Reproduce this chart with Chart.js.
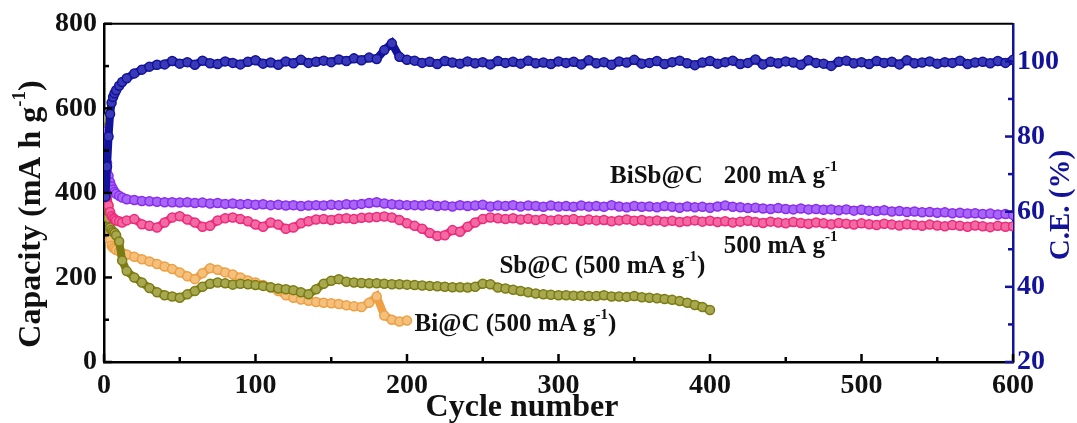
<!DOCTYPE html>
<html>
<head>
<meta charset="utf-8">
<script src="https://cdn.jsdelivr.net/npm/chart.js@4/dist/chart.umd.min.js"></script>
<style>
  html, body { margin: 0; padding: 0; background: #fff; }
  canvas { display: block; }
</style>
</head>
<body>
<canvas id="cycling" width="1077" height="423"></canvas>
<script>
// sampled cycle numbers (dense at start, then every 5 cycles)
const earlyCycles = [1, 2, 3, 4, 5, 6, 7, 8, 10, 12];
const cycleNumbers = earlyCycles.concat(Array.from({ length: 118 }, (_, i) => 15 + 5 * i));

// BiSb@C coulombic efficiency (%), right axis
const bisbCE = [
  64, 72, 80, 86, 89, 90.5, 91.5, 92.3, 93.5, 94.5,
  95.5, 96.8, 97.8, 98.6,
  99.1, 99.2, 100.1, 99.4, 99.8, 99.1, 100.2, 99.5, 99.3, 100.0,
  99.6, 99.2, 99.9, 100.3, 99.4, 99.7, 99.1, 100.0, 99.5, 100.4,
  99.6, 99.9, 100.2, 99.8,
  100.5, 100.1, 100.8, 100.3, 101.0, 100.6, 103.0, 104.8, 101.2, 100.4,
  100.2, 99.6, 99.9, 99.3, 100.1, 99.7, 99.4, 100.0, 99.5, 99.8,
  99.2, 100.1, 99.6, 99.9, 99.4, 100.2, 99.5, 99.7, 99.3, 100.0,
  99.6, 99.9, 99.2, 100.3, 99.5, 99.8, 99.1, 100.0, 99.7, 100.4,
  99.4, 99.6, 100.1, 99.3, 99.8, 100.2, 99.5, 99.0, 99.7, 100.1,
  99.4, 99.8, 100.2, 99.3, 99.6, 100.5, 99.2, 99.9, 99.5, 100.0,
  99.7, 99.1, 100.3, 99.6, 99.4, 98.8, 99.9, 100.2, 99.5, 99.8,
  99.3, 100.1, 99.6, 99.9, 99.2, 100.3, 99.5, 99.7, 100.0, 99.4,
  99.8, 99.6, 100.2, 99.3, 99.7, 99.9, 99.5, 100.1, 99.6, 100.4
];

// BiSb@C capacity at 200 mA g-1 (mA h g-1)
const bisb200 = [
  545, 470, 440, 425, 415, 408, 402, 398, 393, 389,
  385, 383, 381, 380, 379, 378, 378, 377, 378, 376,
  377, 375, 376, 374, 375, 373, 374, 372, 373, 371,
  372, 370, 371, 369, 370, 371, 370, 372, 371, 373,
  372, 374, 376, 378, 375, 373, 372, 371,
  371, 370, 372, 369, 370, 368, 371, 369, 370, 372,
  368, 370, 369, 371, 368, 370, 369, 367, 370, 368,
  369, 367, 370, 368, 369, 367, 371, 368, 366, 369,
  367, 368, 366, 369, 367, 365, 368, 366, 367, 365,
  368, 370, 367, 366, 364, 365, 363, 362, 364, 362,
  361, 363, 361, 362, 360, 361, 359, 361, 358, 360,
  358, 357, 359, 356, 357, 355, 356, 354, 355, 353,
  354, 352, 353, 351, 352, 350, 351, 349, 350, 348
];

// BiSb@C capacity at 500 mA g-1
const bisb500 = [
  485, 400, 370, 355, 345, 340, 338, 335, 333, 330,
  335, 338, 326, 322, 318, 330, 342, 345, 337, 330,
  320, 322, 335, 340, 342, 338, 333, 325, 320, 330,
  325, 315, 318, 328, 333, 337, 338, 336, 339, 340,
  338, 341, 342, 343, 344, 342, 336, 328,
  322, 315, 305, 298, 300, 312, 308, 320, 330, 338,
  342, 340, 338, 340, 337, 339, 336, 338, 335, 337,
  336, 338, 334, 337, 335, 336, 333, 335, 337, 334,
  336, 333, 335, 332, 334, 331, 333, 335, 332, 334,
  331, 333, 330, 332, 334, 331, 329, 332, 330, 328,
  331, 329, 327, 330, 328, 326, 329, 327, 325, 328,
  326, 324, 327, 325, 323, 326, 324, 322, 325, 323,
  321, 324, 322, 320, 323, 321, 319, 322, 320, 321
];

// Bi@C capacity at 500 mA g-1 (200 cycles)
const bi500 = [
  495, 420, 370, 290, 275, 270, 268, 265, 262, 258,
  254, 249, 243, 238, 232, 226, 220, 212, 203, 196,
  210, 222, 218, 212, 207, 200, 193, 188, 182, 176,
  168, 158, 152, 148, 145, 142, 140, 139, 137, 134,
  132, 130, 140, 155, 110, 100, 96, 98
];

// Sb@C capacity at 500 mA g-1 (400 cycles)
const sb500 = [
  575, 420, 340, 318, 312, 308, 305, 300, 285, 240,
  215, 200, 188, 175, 165, 158, 155, 152, 160, 168,
  178, 185, 188, 186, 183, 185, 184, 182, 180, 177,
  174, 172, 170, 165, 160, 172, 185, 192, 196, 190,
  188, 187, 186, 186, 185, 184, 184, 183, 182, 181,
  180, 179, 178, 177, 177, 176, 178, 185, 184, 176,
  174, 171, 168, 165, 162, 160, 159, 158, 158, 157,
  157, 156, 156, 158, 155, 155, 154, 156, 153, 152,
  151, 149, 147, 144, 140, 135, 130, 123
];

const xTicks = [0, 100, 200, 300, 400, 500, 600];
const xMinor = [50, 150, 250, 350, 450, 550];
const capTicks = [0, 200, 400, 600, 800];
const capMinor = [100, 300, 500, 700];
const ceTicks = [20, 40, 60, 80, 100];
const ceMinor = [30, 50, 70, 90];

const navy = "#12129a";
const serif = "'Liberation Serif', 'Times New Roman', serif";

function points(values) {
  return values.map((v, i) => ({ x: cycleNumbers[i], y: v }));
}

function series(label, values, color, fill, axis, order) {
  return {
    label: label,
    data: points(values),
    yAxisID: axis,
    order: order,
    showLine: true,
    borderColor: color,
    borderWidth: 8,
    pointRadius: 4.5,
    pointBorderWidth: 1.5,
    pointBorderColor: color,
    pointBackgroundColor: fill,
  };
}

// text with "-1" superscripts
function drawRich(ctx, parts, x, y, size, color, align) {
  let widths = parts.map((p) => {
    ctx.font = "bold " + (p.sup ? Math.round(size * 0.6) : size) + "px " + serif;
    return ctx.measureText(p.t).width;
  });
  let total = widths.reduce((a, b) => a + b, 0);
  let cx = align === "center" ? x - total / 2 : x;
  ctx.fillStyle = color;
  ctx.textBaseline = "middle";
  ctx.textAlign = "left";
  parts.forEach((p, i) => {
    ctx.font = "bold " + (p.sup ? Math.round(size * 0.6) : size) + "px " + serif;
    ctx.fillText(p.t, cx, p.sup ? y - size * 0.38 : y);
    cx += widths[i];
  });
}

const notes = [
  { parts: [{ t: "BiSb@C" }], cycle: 334, cap: 439 },
  { parts: [{ t: "200 mA g" }, { t: "-1", sup: true }], cycle: 409, cap: 439 },
  { parts: [{ t: "500 mA g" }, { t: "-1", sup: true }], cycle: 409, cap: 273 },
  { parts: [{ t: "Sb@C (500 mA g" }, { t: "-1", sup: true }, { t: ")" }], cycle: 261, cap: 225 },
  { parts: [{ t: "Bi@C (500 mA g" }, { t: "-1", sup: true }, { t: ")" }], cycle: 205, cap: 88 },
];

const decorPlugin = {
  id: "decor",
  afterDatasetsDraw(chart) {
    const ctx = chart.ctx;
    const a = chart.chartArea;
    const x = chart.scales.x, y = chart.scales.y, y2 = chart.scales.y2;
    ctx.save();
    // top frame
    ctx.strokeStyle = "#000";
    ctx.lineWidth = 2;
    ctx.beginPath();
    ctx.moveTo(a.left, a.top);
    ctx.lineTo(a.right, a.top);
    ctx.stroke();
    // inward ticks
    function tick(px, py, dx, dy, color) {
      ctx.strokeStyle = color;
      ctx.lineWidth = 2.5;
      ctx.beginPath();
      ctx.moveTo(px, py);
      ctx.lineTo(px + dx, py + dy);
      ctx.stroke();
    }
    xTicks.forEach((v) => tick(x.getPixelForValue(v), a.bottom, 0, -8, "#000"));
    xMinor.forEach((v) => tick(x.getPixelForValue(v), a.bottom, 0, -5, "#000"));
    capTicks.forEach((v) => tick(a.left, y.getPixelForValue(v), 8, 0, "#000"));
    capMinor.forEach((v) => tick(a.left, y.getPixelForValue(v), 5, 0, "#000"));
    ceTicks.forEach((v) => tick(a.right, y2.getPixelForValue(v), -8, 0, navy));
    ceMinor.forEach((v) => tick(a.right, y2.getPixelForValue(v), -5, 0, navy));
    // annotations
    notes.forEach((n) => {
      drawRich(ctx, n.parts, x.getPixelForValue(n.cycle), y.getPixelForValue(n.cap), 25, "#111", "left");
    });
    // axis titles
    drawRich(ctx, [{ t: "Cycle number" }], 522, 408, 32, "#111", "center");
    ctx.save();
    ctx.translate(32, 214);
    ctx.rotate(-Math.PI / 2);
    drawRich(ctx, [{ t: "Capacity (mA h g" }, { t: "-1", sup: true }, { t: ")" }], 0, 0, 32, "#111", "center");
    ctx.restore();
    ctx.save();
    ctx.translate(1062, 205);
    ctx.rotate(-Math.PI / 2);
    drawRich(ctx, [{ t: "C.E. (%)" }], 0, 0, 29, navy, "center");
    ctx.restore();
    ctx.restore();
  },
};

const tickFont = { family: serif, size: 28, weight: "bold" };

new Chart(document.getElementById("cycling").getContext("2d"), {
  type: "scatter",
  data: {
    datasets: [
      series("BiSb@C C.E.", bisbCE, navy, "#3a3ab8", "y2", 1),
      series("BiSb@C 200 mA g-1", bisb200, "#8a2cf0", "#a866f5", "y", 2),
      series("BiSb@C 500 mA g-1", bisb500, "#ee2a7c", "#f26aa3", "y", 3),
      series("Sb@C 500 mA g-1", sb500, "#7c7c14", "#a8a850", "y", 4),
      series("Bi@C 500 mA g-1", bi500, "#eea044", "#f4c07e", "y", 5),
    ],
  },
  options: {
    responsive: false,
    animation: false,
    devicePixelRatio: 1,
    layout: { padding: { top: 23, left: 0, right: 0, bottom: 0 } },
    plugins: { legend: { display: false }, tooltip: { enabled: false } },
    scales: {
      x: {
        type: "linear",
        min: 0,
        max: 600,
        afterBuildTicks: (s) => { s.ticks = xTicks.map((v) => ({ value: v })); },
        afterFit: (s) => { s.height = 61; },
        ticks: { font: tickFont, color: "#111", padding: 7, maxRotation: 0 },
        grid: { display: false, drawTicks: false },
        border: { display: true, color: "#000", width: 2.5 },
      },
      y: {
        position: "left",
        min: 0,
        max: 800,
        afterBuildTicks: (s) => { s.ticks = capTicks.map((v) => ({ value: v })); },
        afterFit: (s) => { s.width = 104; },
        ticks: { font: tickFont, color: "#111", padding: 7 },
        grid: { display: false, drawTicks: false },
        border: { display: true, color: "#000", width: 2.5 },
      },
      y2: {
        position: "right",
        min: 20,
        max: 110,
        afterBuildTicks: (s) => { s.ticks = ceTicks.map((v) => ({ value: v })); },
        afterFit: (s) => { s.width = 64; },
        ticks: { font: tickFont, color: navy, padding: 4 },
        grid: { display: false, drawTicks: false },
        border: { display: true, color: navy, width: 2.5 },
      },
    },
  },
  plugins: [decorPlugin],
});
</script>
</body>
</html>
